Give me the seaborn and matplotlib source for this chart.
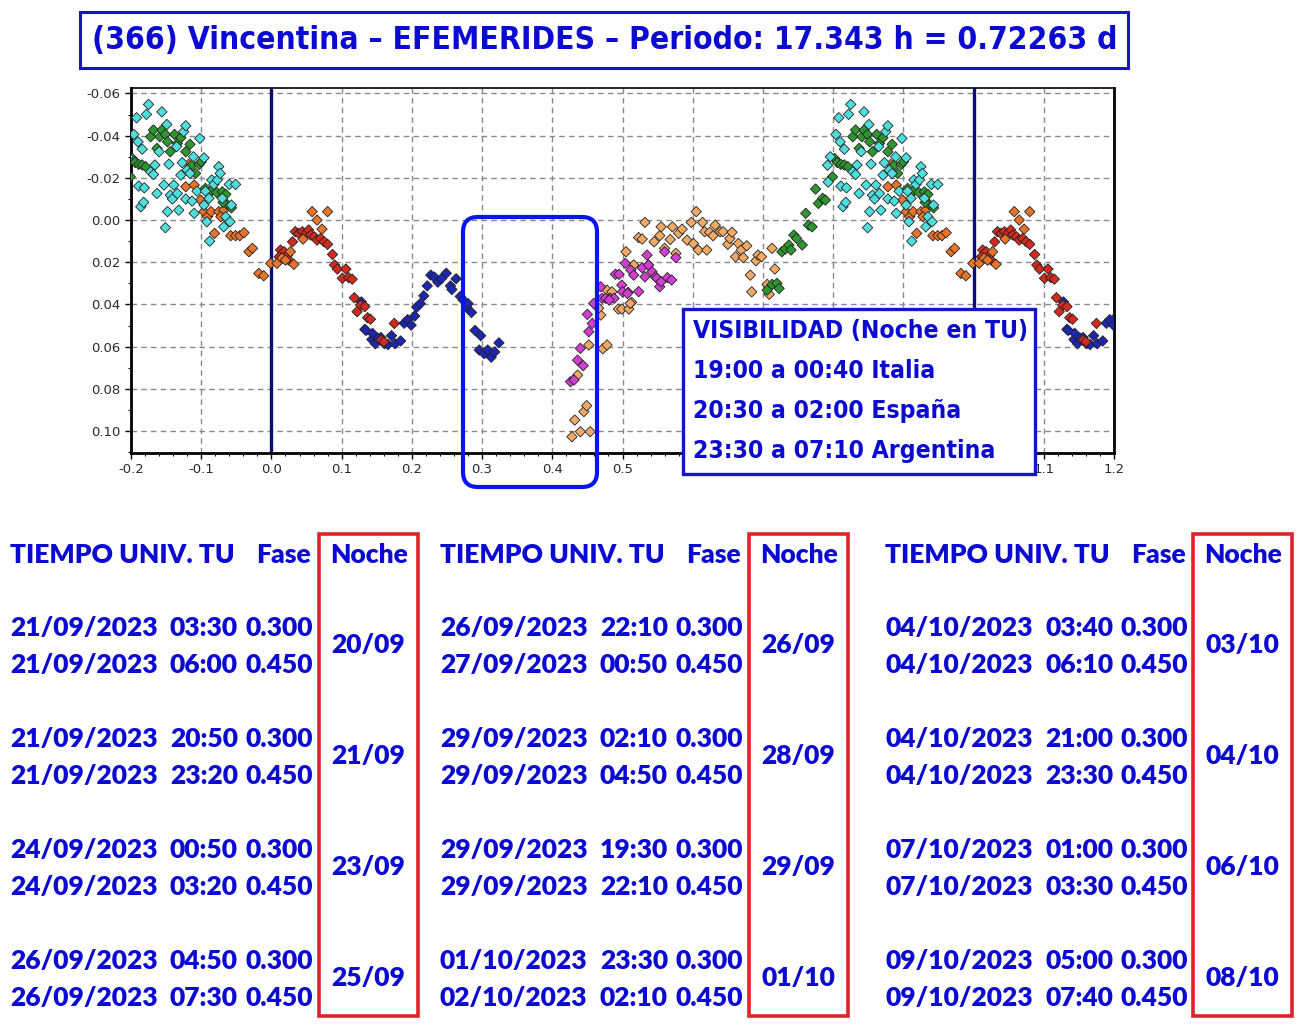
import os
import pandas as pd
import matplotlib
matplotlib.use("Agg")
import matplotlib.pyplot as plt
from matplotlib import font_manager
from matplotlib.patches import FancyBboxPatch, Rectangle
from matplotlib.ticker import MultipleLocator, FormatStrFormatter
import seaborn as sns

# --- light curve sessions (phase 0..1, copies drawn at +-1) ---
cyan_phase = [0.804, 0.808, 0.810, 0.816, 0.811, 0.819, 0.814, 0.818, 0.822, 0.825,
              0.828, 0.832, 0.834, 0.837, 0.840, 0.844, 0.847, 0.849, 0.852, 0.851,
              0.854, 0.856, 0.859, 0.861, 0.865, 0.866, 0.868, 0.871, 0.873, 0.875,
              0.878, 0.880, 0.878, 0.884, 0.887, 0.889, 0.890, 0.894, 0.898, 0.904,
              0.906, 0.908, 0.912, 0.915, 0.918, 0.923, 0.925, 0.927, 0.930, 0.932,
              0.935, 0.940, 0.941, 0.943, 0.949, 0.904, 0.911, 0.792, 0.793, 0.796]
cyan_mag = [-0.0406, -0.0485, -0.0371, -0.0336, -0.0161, -0.0153, -0.0063, -0.0084, -0.0501, -0.0548,
            -0.0229, -0.0216, -0.0261, -0.0126, -0.0324, -0.0513, -0.0166, 0.0036, -0.0040, -0.0453,
            -0.0265, -0.0118, -0.0100, -0.0166, -0.0348, -0.0126, -0.0047, -0.0213, -0.0272, -0.0419,
            -0.0447, -0.0237, -0.0100, -0.0221, -0.0090, -0.0300, -0.0032, -0.0137, -0.0387, -0.0295,
            -0.0137, 0.0008, 0.0100, -0.0190, -0.0169, -0.0190, -0.0253, -0.0221, -0.0103, 0.0032,
            -0.0016, -0.0169, 0.0008, -0.0071, -0.0169, -0.0071, -0.0103, -0.0260, -0.0180, -0.0300]

green_phase = [0.802, 0.806, 0.811, 0.816, 0.821, 0.828, 0.832, 0.837, 0.841, 0.844,
               0.849, 0.852, 0.856, 0.862, 0.866, 0.871, 0.878, 0.884, 0.887, 0.892,
               0.897, 0.900, 0.906, 0.911, 0.914, 0.922, 0.930, 0.935, 0.937, 0.943,
               0.931, 0.706, 0.713, 0.720, 0.723, 0.727, 0.732, 0.737, 0.740, 0.744,
               0.748, 0.756, 0.761, 0.765, 0.770, 0.775, 0.779, 0.785, 0.789, 0.799]
green_mag = [-0.0292, -0.0273, -0.0264, -0.0261, -0.0253, -0.0395, -0.0427, -0.0340, -0.0395, -0.0427,
             -0.0406, -0.0371, -0.0324, -0.0406, -0.0363, -0.0390, -0.0324, -0.0359, -0.0261, -0.0221,
             -0.0264, -0.0276, -0.0150, -0.0126, -0.0137, -0.0131, -0.0134, -0.0122, -0.0074, -0.0058,
             -0.0084, 0.0332, 0.0305, 0.0300, 0.0324, 0.0150, 0.0137, 0.0118, 0.0142, 0.0071,
             0.0087, 0.0118, -0.0032, 0.0024, 0.0032, -0.0147, -0.0079, -0.0103, -0.0095, -0.0205]

orange_phase = [0.999, 0.008, 0.015, 0.020, 0.032, 0.058, 0.080, 0.065, 0.072, 0.982,
                0.989, 0.968, 0.973, 0.942, 0.949, 0.955, 0.961, 0.919, 0.904, 0.909,
                0.914, 0.925, 0.932, 0.928, 0.878, 0.890, 0.882, 0.899, 0.027, 0.045]
orange_mag = [0.0205, 0.0205, 0.0180, 0.0190, 0.0210, -0.0040, -0.0040, 0.0000, 0.0043, 0.0253,
              0.0264, 0.0150, 0.0134, 0.0074, 0.0074, 0.0074, 0.0060, 0.0063, -0.0040, -0.0016,
              -0.0040, -0.0040, -0.0047, -0.0016, -0.0158, -0.0166, -0.0264, -0.0095, 0.0150, 0.0090]

red_phase = [0.013, 0.018, 0.023, 0.011, 0.025, 0.030, 0.034, 0.039, 0.044, 0.049,
             0.053, 0.056, 0.061, 0.065, 0.070, 0.075, 0.080, 0.087, 0.090, 0.094,
             0.101, 0.106, 0.110, 0.115, 0.118, 0.122, 0.127, 0.133, 0.137, 0.141,
             0.156, 0.160, 0.175]
red_mag = [0.0142, 0.0150, 0.0166, 0.0174, 0.0190, 0.0103, 0.0055, 0.0063, 0.0055, 0.0063,
           0.0047, 0.0071, 0.0079, 0.0095, 0.0087, 0.0103, 0.0115, 0.0163, 0.0213, 0.0232,
           0.0276, 0.0232, 0.0273, 0.0280, 0.0368, 0.0434, 0.0403, 0.0410, 0.0463, 0.0470,
           0.0569, 0.0577, 0.0490]

blue_phase = [0.128, 0.133, 0.135, 0.143, 0.148, 0.156, 0.161, 0.166, 0.171, 0.176,
              0.184, 0.189, 0.194, 0.199, 0.204, 0.207, 0.212, 0.217, 0.222, 0.227,
              0.232, 0.237, 0.242, 0.249, 0.255, 0.257, 0.263, 0.269, 0.273, 0.278,
              0.280, 0.285, 0.290, 0.298, 0.296, 0.303, 0.308, 0.313, 0.318, 0.324,
              0.144, 0.152]
blue_mag = [0.0388, 0.0518, 0.0523, 0.0566, 0.0586, 0.0557, 0.0586, 0.0590, 0.0548, 0.0586,
            0.0573, 0.0489, 0.0472, 0.0498, 0.0455, 0.0413, 0.0396, 0.0359, 0.0312, 0.0261,
            0.0270, 0.0294, 0.0278, 0.0252, 0.0312, 0.0329, 0.0278, 0.0362, 0.0379, 0.0413,
            0.0396, 0.0438, 0.0523, 0.0548, 0.0616, 0.0633, 0.0616, 0.0650, 0.0625, 0.0582,
            0.0537, 0.0560]

magenta_phase = [0.426, 0.431, 0.436, 0.440, 0.444, 0.450, 0.452, 0.457, 0.459, 0.469,
                 0.471, 0.476, 0.483, 0.490, 0.495, 0.499, 0.504, 0.508, 0.512, 0.516,
                 0.523, 0.528, 0.532, 0.535, 0.542, 0.547, 0.549, 0.553, 0.555, 0.560,
                 0.564, 0.570, 0.576, 0.500, 0.507, 0.488, 0.481, 0.537]
magenta_mag = [0.0766, 0.0758, 0.0664, 0.0608, 0.0690, 0.0447, 0.0529, 0.0490, 0.0395, 0.0316,
               0.0371, 0.0371, 0.0371, 0.0257, 0.0257, 0.0308, 0.0205, 0.0343, 0.0237, 0.0261,
               0.0339, 0.0226, 0.0269, 0.0166, 0.0245, 0.0269, 0.0276, 0.0316, 0.0292, 0.0150,
               0.0273, 0.0284, 0.0178, 0.0340, 0.0348, 0.0371, 0.0379, 0.0213]

tan_phase = [0.428, 0.440, 0.454, 0.432, 0.445, 0.449, 0.436, 0.452, 0.472, 0.478,
             0.469, 0.466, 0.478, 0.485, 0.494, 0.499, 0.509, 0.513, 0.505, 0.516,
             0.523, 0.528, 0.532, 0.545, 0.537, 0.511, 0.553, 0.555, 0.560, 0.568,
             0.571, 0.576, 0.580, 0.585, 0.592, 0.598, 0.601, 0.605, 0.608, 0.614,
             0.617, 0.620, 0.624, 0.629, 0.632, 0.639, 0.643, 0.650, 0.653, 0.656,
             0.661, 0.665, 0.669, 0.672, 0.677, 0.682, 0.684, 0.690, 0.693, 0.698,
             0.706, 0.709, 0.713, 0.717]
tan_mag = [0.1027, 0.1003, 0.1003, 0.0948, 0.0908, 0.0880, 0.0735, 0.0592, 0.0610, 0.0592,
           0.0450, 0.0418, 0.0332, 0.0340, 0.0422, 0.0422, 0.0422, 0.0390, 0.0150, 0.0213,
           0.0083, 0.0090, 0.0011, 0.0103, 0.0213, 0.0395, 0.0074, 0.0032, 0.0134, 0.0092,
           0.0032, 0.0158, 0.0063, 0.0043, 0.0095, 0.0011, 0.0111, -0.0040, 0.0142, 0.0011,
           0.0055, 0.0142, 0.0058, 0.0074, 0.0024, 0.0055, 0.0055, 0.0115, 0.0087, 0.0058,
           0.0174, 0.0111, 0.0142, 0.0178, 0.0122, 0.0261, 0.0340, 0.0193, 0.0166, 0.0174,
           0.0305, 0.0352, 0.0134, 0.0232]

session_colors = {"cyan": "#4fdede", "green": "#2e962e", "orange": "#e8742c",
                  "red": "#d22a1e", "blue": "#1c26b0", "magenta": "#d23ed2",
                  "tan": "#f0aa66"}

# --- ephemeris table ---
start_dates = ["21/09/2023", "21/09/2023", "24/09/2023", "26/09/2023",
               "26/09/2023", "29/09/2023", "29/09/2023", "01/10/2023",
               "04/10/2023", "04/10/2023", "07/10/2023", "09/10/2023"]
start_times = ["03:30", "20:50", "00:50", "04:50",
               "22:10", "02:10", "19:30", "23:30",
               "03:40", "21:00", "01:00", "05:00"]
end_dates = ["21/09/2023", "21/09/2023", "24/09/2023", "26/09/2023",
             "27/09/2023", "29/09/2023", "29/09/2023", "02/10/2023",
             "04/10/2023", "04/10/2023", "07/10/2023", "09/10/2023"]
end_times = ["06:00", "23:20", "03:20", "07:30",
             "00:50", "04:50", "22:10", "02:10",
             "06:10", "23:30", "03:30", "07:40"]
noches = ["20/09", "21/09", "23/09", "25/09",
          "26/09", "28/09", "29/09", "01/10",
          "03/10", "04/10", "06/10", "08/10"]
fase_ini = "0.300"
fase_fin = "0.450"

title = "(366) Vincentina \u2013 EFEMERIDES \u2013 Periodo: 17.343 h = 0.72263 d"
vis_lines = ["VISIBILIDAD (Noche en TU)", "19:00 a 00:40 Italia",
             "20:30 a 02:00 Espa\u00f1a", "23:30 a 07:10 Argentina"]

W, H = 1307, 1025
BLUE = "#0a0ad2"

sns.set_theme(style="white")
plt.rcParams["axes.unicode_minus"] = False
table_font = ["Lato", "DejaVu Sans"]


def condensed_bold():
    # a narrow bold face if one is installed, otherwise Roboto bold
    for f in font_manager.fontManager.ttflist:
        base = os.path.basename(f.fname).lower()
        w = f.weight if isinstance(f.weight, int) else font_manager.weight_dict.get(f.weight, 400)
        if f.style == "normal" and w >= 600 and (
                "condensed" in str(f.stretch) or "narrow" in base or "condensed" in base):
            return font_manager.FontProperties(fname=f.fname)
    return font_manager.FontProperties(family=["Roboto", "DejaVu Sans"], weight="bold")


narrow = condensed_bold()

fig = plt.figure(figsize=(W / 100, H / 100), dpi=100)
fig.patch.set_facecolor("white")
renderer = fig.canvas.get_renderer()


def fx(x):
    return x / W


def fy(y):
    return 1 - y / H


def fit_width(txt, width_px):
    bb = txt.get_window_extent(renderer=renderer)
    txt.set_fontsize(txt.get_fontsize() * width_px / bb.width)
    return txt.get_fontsize()


ax = fig.add_axes([fx(131), fy(453), (1114 - 131) / W, (453 - 88) / H])

rows = []
for name, ph, mg in [("tan", tan_phase, tan_mag), ("magenta", magenta_phase, magenta_mag),
                     ("blue", blue_phase, blue_mag), ("red", red_phase, red_mag),
                     ("orange", orange_phase, orange_mag), ("green", green_phase, green_mag),
                     ("cyan", cyan_phase, cyan_mag)]:
    for shift in (-1, 0, 1):
        for p, m in zip(ph, mg):
            if -0.22 <= p + shift <= 1.22:
                rows.append((name, p + shift, m))
df = pd.DataFrame(rows, columns=["sesion", "fase", "mag"])

ax.axvline(0.0, color="#0c0c78", lw=2.4, zorder=2.5)
ax.axvline(1.0, color="#0c0c78", lw=2.4, zorder=2.5)
sns.scatterplot(data=df, x="fase", y="mag", hue="sesion", palette=session_colors,
                marker="D", s=28, edgecolor="#222222", linewidth=0.6,
                legend=False, ax=ax, zorder=3)

ax.set_xlim(-0.2, 1.2)
ax.set_ylim(0.1104, -0.0626)
ax.xaxis.set_major_locator(MultipleLocator(0.1))
ax.xaxis.set_minor_locator(MultipleLocator(0.02))
ax.xaxis.set_major_formatter(FormatStrFormatter("%.1f"))
ax.yaxis.set_major_locator(MultipleLocator(0.02))
ax.yaxis.set_minor_locator(MultipleLocator(0.01))
ax.yaxis.set_major_formatter(FormatStrFormatter("%.2f"))
ax.set_xlabel("")
ax.set_ylabel("")
ax.grid(True, which="major", linestyle=(0, (4, 3)), color="#8a8a8a", linewidth=1.0)
ax.set_axisbelow(True)
ax.tick_params(which="major", direction="out", length=4, width=1, color="black",
               labelsize=9.5, labelcolor="#2a2a2a", bottom=True, left=True)
ax.tick_params(which="minor", direction="out", length=2, width=0.8, color="black",
               bottom=True, left=True)
for s in ax.spines.values():
    s.set_color("black")
    s.set_linewidth(1.2)
ax.spines["left"].set_linewidth(2)
ax.spines["bottom"].set_linewidth(2)
ax.spines["right"].set_linewidth(2)

# title box
fig.patches.append(Rectangle((fx(80), fy(68)), (1128 - 80) / W, (68 - 12) / H,
                             transform=fig.transFigure, fill=False,
                             edgecolor="#1414c0", lw=2.2, zorder=5))
t = fig.text(fx(605), fy(41), title, ha="center", va="center", fontsize=25,
             color=BLUE, fontproperties=narrow, zorder=6)
fit_width(t, 1026)

# highlighted phase window 0.30 - 0.45
fig.patches.append(FancyBboxPatch((463 / 100, (H - 487) / 100), (597 - 463) / 100, (487 - 217) / 100,
                                  boxstyle="round,pad=0,rounding_size=0.15",
                                  transform=fig.dpi_scale_trans, fill=False,
                                  edgecolor="#0a14ee", lw=3, zorder=5))

# visibility box
fig.patches.append(Rectangle((fx(683), fy(474)), (1035 - 683) / W, (474 - 309) / H,
                             transform=fig.transFigure, facecolor="white",
                             edgecolor="#1414c8", lw=2.4, zorder=5))
vis_texts = []
for i, line in enumerate(vis_lines):
    vis_texts.append(fig.text(fx(693), fy(331 + 40 * i), line, ha="left", va="center",
                              fontsize=21, color=BLUE, fontproperties=narrow, zorder=6))
vs = fit_width(vis_texts[0], 335)
for vt in vis_texts[1:]:
    vt.set_fontsize(vs)

# ephemeris table
date_x = [10, 440, 885]
time_x = [170, 600, 1045]
fase_r = [313, 743, 1188]
box_x = [(319, 418), (749, 848), (1193, 1292)]
row_y = [628, 739, 850, 961]
tkw = dict(fontsize=19, fontweight="heavy", color=BLUE, family=table_font, va="center")
for g in range(3):
    fig.text(fx(date_x[g]), fy(555), "TIEMPO UNIV. TU", ha="left", **tkw)
    fig.text(fx(fase_r[g] - 2), fy(555), "Fase", ha="right", **tkw)
    x0, x1 = box_x[g]
    fig.text(fx((x0 + x1) / 2), fy(555), "Noche", ha="center", **tkw)
    fig.patches.append(Rectangle((fx(x0), fy(1016)), (x1 - x0) / W, (1016 - 534) / H,
                                 transform=fig.transFigure, fill=False,
                                 edgecolor="#e0222a", lw=2.6, zorder=5))
    for r in range(4):
        k = g * 4 + r
        y0 = row_y[r]
        y1 = y0 + 37
        fig.text(fx(date_x[g]), fy(y0), start_dates[k], ha="left", **tkw)
        fig.text(fx(time_x[g]), fy(y0), start_times[k], ha="left", **tkw)
        fig.text(fx(fase_r[g]), fy(y0), fase_ini, ha="right", **tkw)
        fig.text(fx(date_x[g]), fy(y1), end_dates[k], ha="left", **tkw)
        fig.text(fx(time_x[g]), fy(y1), end_times[k], ha="left", **tkw)
        fig.text(fx(fase_r[g]), fy(y1), fase_fin, ha="right", **tkw)
        fig.text(fx((x0 + x1) / 2), fy(y0 + 17), noches[k], ha="center", **tkw)

fig.savefig("out.png", dpi=100)
plt.close(fig)
